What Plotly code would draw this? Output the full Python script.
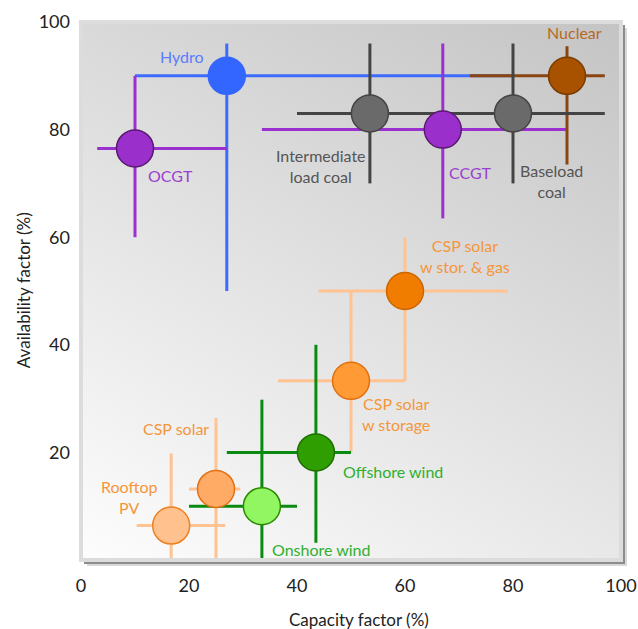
import base64
import plotly.graph_objects as go

# ---------------- data ----------------
techs = ["Hydro", "OCGT", "Intermediate load coal", "CCGT", "Baseload coal", "Nuclear",
         "CSP solar w stor. & gas", "CSP solar w storage", "Offshore wind", "Onshore wind",
         "CSP solar", "Rooftop PV"]
capacity = [27, 10, 53.5, 67, 80, 90, 60, 50, 43.5, 33.5, 25, 16.7]
capacity_lo = [10, 3, 40, 33.5, 53.5, 72, 44, 36.5, 27, 20, 20, 10.3]
capacity_hi = [80, 27, 80, 90, 97, 97, 79, 60, 50, 40, 29.5, 26.7]
availability = [90, 76.5, 83, 80, 83, 90, 50, 33.3, 20, 10, 13.2, 6.4]
availability_lo = [50, 60, 70, 63.5, 70, 73.5, 33.3, 20, 3.2, 0, 0, 0]
availability_hi = [96, 90, 96, 96, 96, 95.5, 60, 50, 40, 29.8, 26.4, 19.8]

labels = ["Hydro", "OCGT", "Intermediate<br>load coal", "CCGT", "Baseload<br>coal", "Nuclear",
          "CSP solar<br>w stor. & gas", "CSP solar<br>w storage", "Offshore wind", "Onshore wind",
          "CSP solar", "Rooftop<br>PV"]
label_x = [18.7, 16.5, 44.5, 72.2, 87.2, 91.3, 71.2, 58.3, 57.7, 44.5, 17.6, 8.9]
label_y = [93.5, 71.4, 73.2, 72.1, 70.4, 98.0, 56.5, 27.1, 16.4, 2.0, 24.5, 11.7]

x_ticks = [0, 20, 40, 60, 80, 100]
y_ticks = [20, 40, 60, 80, 100]

# ---------------- styles ----------------
line_col = ["#3d6bff", "#9b30d0", "#444444", "#9b30d0", "#444444", "#8a4510",
            "#ffc392", "#ffc392", "#0b8a12", "#0b8a12", "#ffc392", "#ffc392"]
fill_col = ["#3366ff", "#9b2fcc", "#6a6a6a", "#9b2fcc", "#6a6a6a", "#a85200",
            "#f07c00", "#ff9a35", "#2f9e00", "#92f562", "#ffab66", "#ffc28e"]
edge_col = ["#3366ff", "#5a1a70", "#444444", "#5a1a70", "#444444", "#7a3c00",
            "#cc6600", "#e07010", "#1e6e00", "#2a8a00", "#e07010", "#ee8020"]
text_col = ["#5b7cff", "#9b3fd0", "#555555", "#9b3fd0", "#555555", "#b8691e",
            "#f5963a", "#f5963a", "#2fb02f", "#2fb02f", "#f5963a", "#f5963a"]
line_order = [6, 7, 10, 11, 8, 9, 0, 1, 3, 5, 2, 4]

FONT = "Lato, 'Open Sans', sans-serif"

fig = go.Figure()

for i in line_order:
    fig.add_trace(go.Scatter(
        x=[capacity[i]], y=[availability[i]], mode="markers",
        marker=dict(size=2, opacity=0),
        error_x=dict(type="data", symmetric=False,
                     array=[capacity_hi[i] - capacity[i]],
                     arrayminus=[capacity[i] - capacity_lo[i]],
                     color=line_col[i], thickness=3, width=0),
        error_y=dict(type="data", symmetric=False,
                     array=[availability_hi[i] - availability[i]],
                     arrayminus=[availability[i] - availability_lo[i]],
                     color=line_col[i], thickness=3, width=0),
        hoverinfo="skip", showlegend=False))

fig.add_trace(go.Scatter(
    x=capacity, y=availability, mode="markers", text=techs,
    marker=dict(size=37, color=fill_col, line=dict(color=edge_col, width=1.5), opacity=1),
    hovertemplate="%{text}<br>Capacity %{x}%<br>Availability %{y}%<extra></extra>",
    showlegend=False))

for t, lx, ly, c in zip(labels, label_x, label_y, text_col):
    fig.add_annotation(x=lx, y=ly, text=t, showarrow=False, xanchor="center", yanchor="middle",
                       font=dict(family=FONT, size=16, color=c), align="center")

# gradient background
svg = ('<svg xmlns="http://www.w3.org/2000/svg" width="540" height="538" viewBox="0 0 100 100" '
       'preserveAspectRatio="none"><defs><linearGradient id="g" x1="0" y1="1" x2="0.69" y2="-0.18">'
       '<stop offset="0" stop-color="#fdfdfd"/><stop offset="1" stop-color="#c4c4c4"/>'
       '</linearGradient></defs><rect x="0" y="0" width="100" height="100" fill="url(#g)"/></svg>')
src = "data:image/svg+xml;base64," + base64.b64encode(svg.encode()).decode()
fig.add_layout_image(dict(source=src, xref="x", yref="y", x=0, y=100, sizex=100, sizey=100,
                          sizing="stretch", layer="below", xanchor="left", yanchor="top"))

dx = 1 / 540
dy = 1 / 538
# shadow
fig.add_shape(type="rect", xref="paper", yref="paper", x0=6 * dx, x1=1 + 6 * dx, y0=-6 * dy, y1=1 - 6 * dy,
              fillcolor="#d8d8d8", line_width=0, layer="below")
fig.add_shape(type="rect", xref="paper", yref="paper", x0=3 * dx, x1=1 + 4 * dx, y0=-4 * dy, y1=1 - 3 * dy,
              fillcolor="#8c8c8c", line_width=0, layer="below")
# frame
fig.add_shape(type="rect", xref="paper", yref="paper", x0=0, x1=1, y0=0, y1=1,
              line=dict(color="#dcdcdc", width=4), layer="above")

# axis titles
fig.add_annotation(x=0.515, y=-0.1115, xref="paper", yref="paper", text="Capacity factor (%)",
                   xanchor="center", yanchor="middle",
                   showarrow=False, font=dict(family=FONT, size=17, color="#222222"))
fig.add_annotation(x=-0.105, y=0.502, xref="paper", yref="paper", text="Availability factor (%)",
                   xanchor="center", yanchor="middle",
                   textangle=-90, showarrow=False, font=dict(family=FONT, size=17, color="#222222"))

fig.update_xaxes(range=[0, 100], tickvals=x_ticks, ticktext=[str(v) for v in x_ticks],
                 showgrid=False, zeroline=False, showline=False, ticks="", automargin=False,
                 ticklabelstandoff=13, tickfont=dict(family=FONT, size=18, color="#222222"))
fig.update_yaxes(range=[0, 100], tickvals=y_ticks, ticktext=[str(v) for v in y_ticks],
                 showgrid=False, zeroline=False, showline=False, ticks="", automargin=False,
                 ticklabelstandoff=10, tickfont=dict(family=FONT, size=18, color="#222222"))

fig.update_layout(width=638, height=629, margin=dict(l=81, r=17, t=22, b=69, autoexpand=False),
                  paper_bgcolor="white", plot_bgcolor="rgba(0,0,0,0)",
                  font=dict(family=FONT), showlegend=False)

# remove the page's default body margin so the figure sits at the window's top-left corner
fig.write_html("out.html", config={"displayModeBar": False},
               post_script="document.body.style.margin='0';document.body.style.overflow='hidden';")
